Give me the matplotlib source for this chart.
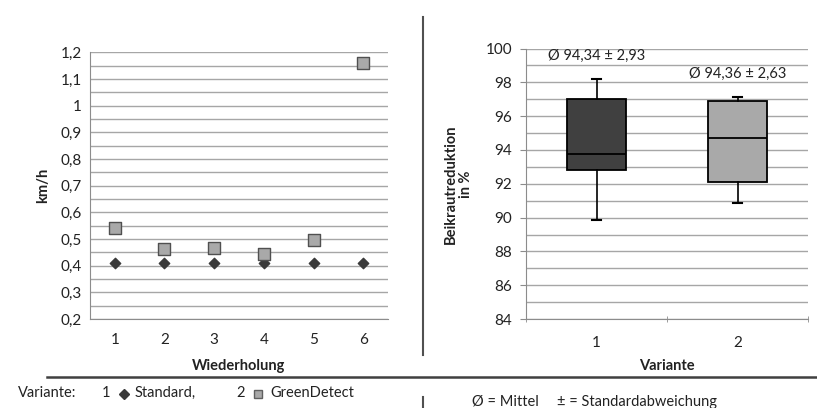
import numpy as np
import matplotlib
matplotlib.use('Agg')
import matplotlib.pyplot as plt
from matplotlib.lines import Line2D

plt.rcParams['font.family'] = ['Lato', 'DejaVu Sans']
plt.rcParams['axes.unicode_minus'] = False

# Left chart: driving speed per repetition
wiederholung = [1, 2, 3, 4, 5, 6]
standard = [0.41, 0.41, 0.41, 0.41, 0.41, 0.41]
greendetect = [0.543, 0.464, 0.468, 0.442, 0.495, 1.16]
left_yticks = [0.2, 0.3, 0.4, 0.5, 0.6, 0.7, 0.8, 0.9, 1.0, 1.1, 1.2]

# Right chart: weed reduction box plots
varianten = [1, 2]
whisker_low = [89.88, 90.85]
q1 = [92.79, 92.08]
median = [93.74, 94.71]
q3 = [97.0, 96.89]
whisker_high = [98.2, 97.15]
box_colors = ['#404040', '#a9a9a9']
mean_labels = ['Ø 94,34 ± 2,93', 'Ø 94,36 ± 2,63']
label_y = [99.55, 98.5]
right_yticks = [84, 86, 88, 90, 92, 94, 96, 98, 100]

grid_c = '#a6a6a6'
spine_c = '#8c8c8c'
text_c = '#222222'
tick_fs = 11
foot_fs = 10.5

fig = plt.figure(figsize=(8.17, 4.08), dpi=100)

# ---- left chart
ax1 = fig.add_axes([0.110, 0.218, 0.365, 0.654])
ax1.scatter(wiederholung, standard, marker='D', s=28, color='#3a3a3a', zorder=3)
ax1.scatter(wiederholung, greendetect, marker='s', s=85, color='#a9a9a9',
            edgecolors='#505050', linewidths=1.0, zorder=3)
ax1.set_xlim(0.5, 6.5)
ax1.set_ylim(0.2, 1.2)
ax1.set_yticks(left_yticks)
ax1.set_yticklabels([f'{v:g}'.replace('.', ',') for v in left_yticks])
ax1.set_yticks(np.arange(0.25, 1.2, 0.1), minor=True)
ax1.set_xticks(wiederholung)
ax1.grid(axis='y', which='both', color=grid_c, linewidth=1.0)
ax1.set_axisbelow(True)
ax1.set_ylabel('km/h', fontsize=10.5, fontweight='bold', color=text_c, labelpad=7)
ax1.set_xlabel('Wiederholung', fontsize=10.5, fontweight='bold', color=text_c)
ax1.xaxis.set_label_coords(0.5, -0.15)
for s in ['top', 'right']:
    ax1.spines[s].set_visible(False)
for s in ['left', 'bottom']:
    ax1.spines[s].set_color(spine_c)
ax1.tick_params(axis='both', which='both', length=0, labelsize=tick_fs, colors=text_c, pad=6)
ax1.tick_params(axis='x', pad=10)

# ---- right chart
ax2 = fig.add_axes([0.644, 0.218, 0.345, 0.663])
stats = []
for i in range(len(varianten)):
    stats.append({'whislo': whisker_low[i], 'q1': q1[i], 'med': median[i],
                  'q3': q3[i], 'whishi': whisker_high[i]})
bp = ax2.bxp(stats, positions=varianten, widths=0.42, patch_artist=True,
             showfliers=False,
             boxprops=dict(edgecolor='black', linewidth=1.3),
             medianprops=dict(color='black', linewidth=1.3),
             whiskerprops=dict(color='black', linewidth=1.2),
             capprops=dict(color='black', linewidth=1.5), capwidths=0.06)
for patch, c in zip(bp['boxes'], box_colors):
    patch.set_facecolor(c)
for x, y, lab in zip(varianten, label_y, mean_labels):
    ax2.text(x, y, lab, ha='center', va='center', fontsize=10.5, color=text_c)
ax2.set_xlim(0.5, 2.5)
ax2.set_ylim(84, 100)
ax2.set_yticks(right_yticks)
ax2.set_yticks(np.arange(85, 100, 2), minor=True)
ax2.set_xticks(varianten)
ax2.set_xticks([0.5, 1.5, 2.5], minor=True)
ax2.grid(axis='y', which='both', color=grid_c, linewidth=1.0)
ax2.set_axisbelow(True)
ax2.set_ylabel('Beikrautreduktion\nin %', fontsize=10.5, fontweight='bold', color=text_c,
               labelpad=9, linespacing=1.1)
ax2.set_xlabel('Variante', fontsize=10.5, fontweight='bold', color=text_c)
ax2.xaxis.set_label_coords(0.5, -0.148)
for s in ['top', 'right']:
    ax2.spines[s].set_visible(False)
for s in ['left', 'bottom']:
    ax2.spines[s].set_color(spine_c)
ax2.tick_params(axis='both', which='major', length=0, labelsize=tick_fs, colors=text_c, pad=6)
ax2.tick_params(axis='x', pad=12)
ax2.tick_params(axis='x', which='minor', length=5, direction='inout', color=spine_c)
ax2.tick_params(axis='y', which='minor', length=0)
ax2.tick_params(axis='y', which='major', length=4, direction='out', color=spine_c)

# ---- frame lines and footnotes
fig.add_artist(Line2D([423 / 817, 423 / 817], [1 - 17 / 408, 1 - 355 / 408],
                      color='#505050', linewidth=1.5))
fig.add_artist(Line2D([47 / 817, 1.0], [1 - 377 / 408, 1 - 377 / 408],
                      color='#404040', linewidth=1.8))
fig.add_artist(Line2D([423 / 817, 423 / 817], [1 - 397 / 408, 0.0],
                      color='#505050', linewidth=1.5))

fy = 1 - 393 / 408
fig.text(18 / 817, fy, 'Variante:', fontsize=foot_fs, va='center', color=text_c)
fig.text(102 / 817, fy, '1', fontsize=foot_fs, va='center', color=text_c)
fig.add_artist(Line2D([124 / 817], [fy - 0.002], marker='D', markersize=5,
                      color='#3a3a3a', linestyle='none'))
fig.text(135 / 817, fy, 'Standard,', fontsize=foot_fs, va='center', color=text_c)
fig.text(236 / 817, fy, '2', fontsize=foot_fs, va='center', color=text_c)
fig.add_artist(Line2D([258 / 817], [fy - 0.002], marker='s', markersize=6,
                      color='#a9a9a9', markeredgecolor='#606060', linestyle='none'))
fig.text(270 / 817, fy, 'GreenDetect', fontsize=foot_fs, va='center', color=text_c)

gy = 1 - 402 / 408
fig.text(472 / 817, gy, 'Ø = Mittel', fontsize=foot_fs, va='center', color=text_c)
fig.text(557 / 817, gy, '± = Standardabweichung', fontsize=foot_fs, va='center',
         color=text_c)

fig.savefig('out.png', dpi=100)
